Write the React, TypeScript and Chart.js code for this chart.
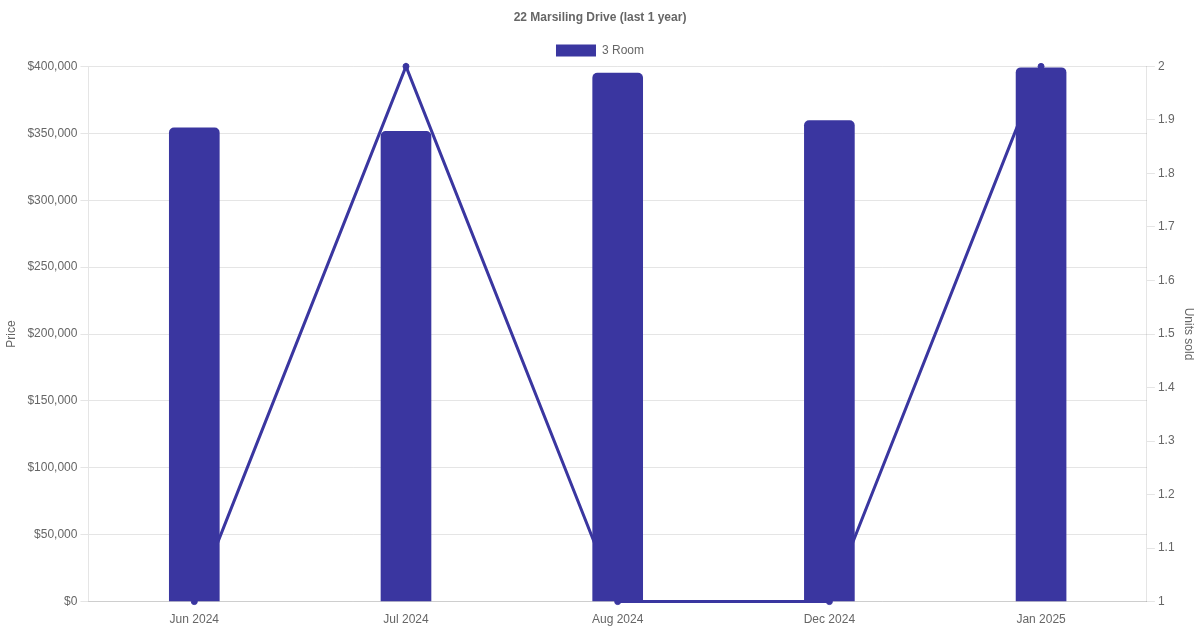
import React, { useEffect, useRef } from "react";
import { Chart, registerables } from "chart.js";

Chart.register(...registerables);

const months = ["Jun 2024", "Jul 2024", "Aug 2024", "Dec 2024", "Jan 2025"];
const prices = [354000, 351500, 395000, 359500, 399000];
const unitsSold = [1, 2, 1, 1, 2];
const COLOR = "rgb(58, 54, 160)";

export default function App() {
  const ref = useRef<HTMLCanvasElement | null>(null);
  useEffect(() => {
    document.body.style.margin = "0";
    const ctx = ref.current;
    if (!ctx) return;
    Chart.defaults.font.family = "'Liberation Sans', Arial, sans-serif";
    Chart.defaults.color = "#666";
    const chart = new Chart(ctx, {
      type: "bar",
      data: {
        labels: months,
        datasets: [
          {
            type: "bar",
            label: "3 Room",
            data: prices,
            backgroundColor: COLOR,
            borderColor: COLOR,
            borderWidth: 0,
            borderRadius: 5,
            barThickness: 50,
            yAxisID: "y",
          },
          {
            type: "line",
            label: "Units sold",
            data: unitsSold,
            borderColor: COLOR,
            backgroundColor: COLOR,
            borderWidth: 3,
            pointRadius: 3,
            pointBorderWidth: 1,
            pointBackgroundColor: COLOR,
            tension: 0,
            fill: false,
            clip: false,
            yAxisID: "y1",
          },
        ],
      },
      options: {
        responsive: true,
        maintainAspectRatio: false,
        animation: false,
        plugins: {
          title: {
            display: true,
            text: "22 Marsiling Drive (last 1 year)",
            color: "#666",
            font: { size: 12, weight: "bold" },
          },
          legend: {
            display: true,
            labels: {
              boxWidth: 40,
              color: "#666",
              font: { size: 12 },
              filter: (item) => item.text === "3 Room",
            },
          },
          tooltip: { enabled: false },
        },
        scales: {
          x: {
            grid: { display: false },
            ticks: { color: "#666", font: { size: 12 } },
          },
          y: {
            position: "left",
            beginAtZero: true,
            max: 400000,
            ticks: {
              stepSize: 50000,
              color: "#666",
              font: { size: 12 },
              callback: (v) => "$" + Number(v).toLocaleString("en-US"),
            },
            title: {
              display: true,
              text: "Price",
              color: "#666",
              font: { size: 12 },
              padding: { top: 4, bottom: 6 },
            },
          },
          y1: {
            position: "right",
            min: 1,
            max: 2,
            grid: { drawOnChartArea: false },
            ticks: {
              stepSize: 0.1,
              color: "#666",
              font: { size: 12 },
              callback: (v) => String(Math.round(Number(v) * 10) / 10),
            },
            title: { display: true, text: "Units sold", color: "#666", font: { size: 12 } },
          },
        },
      },
    });
    return () => chart.destroy();
  }, []);
  return (
    <div style={{ position: "relative", width: 1200, height: 630 }}>
      <canvas ref={ref} />
    </div>
  );
}
